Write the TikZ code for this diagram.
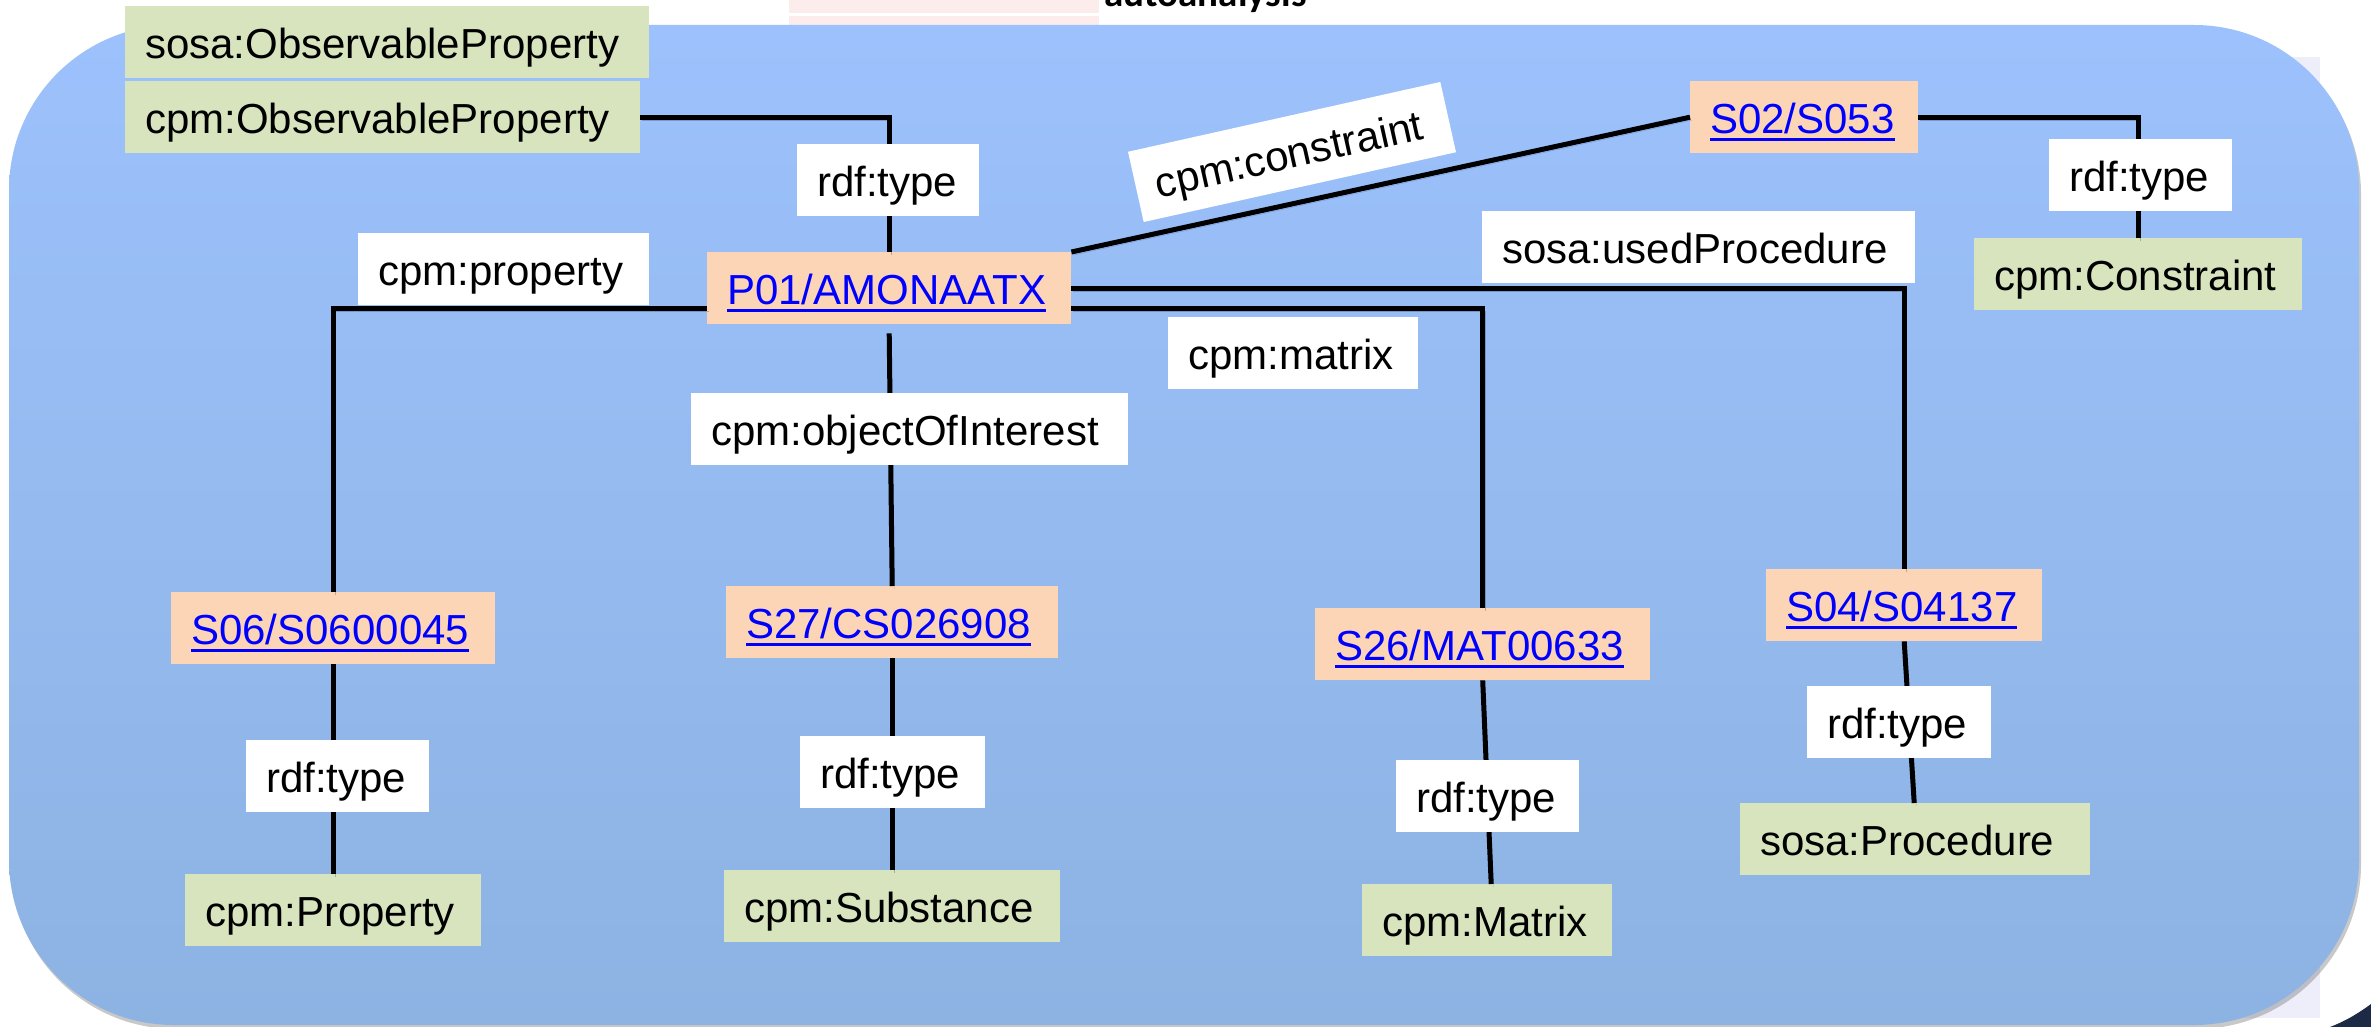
\documentclass[tikz,border=0pt]{standalone}
\usepackage{fontspec}
\setmainfont{Liberation Sans}
\newfontfamily\calfont{Carlito}
\usetikzlibrary{shadows}

\definecolor{panelTop}{RGB}{156,193,252}
\definecolor{panelBot}{RGB}{141,179,227}
\definecolor{panelShade}{RGB}{40,60,110}
\definecolor{classFill}{HTML}{D7E4BD}
\definecolor{resFill}{HTML}{FBD5B5}
\definecolor{linkBlue}{HTML}{0000FF}
\definecolor{pinkRow}{HTML}{FDECEC}
\definecolor{lavender}{HTML}{EEEEFA}
\definecolor{cornerDark}{HTML}{1C2A45}

% underlined hyperlink-style text
\newcommand\lnk[1]{\textcolor{linkBlue}{\setbox0\hbox{#1}\rlap{\rule[-8pt]{\wd0}{3pt}}\box0}}

\tikzset{
  box/.style={rectangle, anchor=north west, inner xsep=20pt, inner ysep=8pt,
    text height=44pt, text depth=12pt, align=left,
    font=\fontsize{42}{50}\selectfont},
  classbox/.style={box, fill=classFill},
  resbox/.style={box, fill=resFill},
  lbl/.style={box, fill=white},
  wire/.style={line width=5pt, black, line join=miter,
    preaction={draw=panelShade, opacity=0.3, transform canvas={xshift=2pt,yshift=-3pt}}},
}

\begin{document}
\begin{tikzpicture}[x=1pt, y=-1pt]
\useasboundingbox (0,0) rectangle (2371,1027);
\fill[white] (0,0) rectangle (2371,1027);

% page fragments behind the panel
\fill[pinkRow] (789,0) rectangle (1099,13);
\fill[pinkRow] (789,16) rectangle (1099,40);
\node[anchor=base west, inner sep=0pt, font=\calfont\bfseries\fontsize{39}{40}\selectfont] (frag) at (1104,7) {autoanalysis};
\fill[lavender] (2200,57) rectangle (2320,1018);
\fill[cornerDark] (2330,1027) .. controls (2348,1020) and (2360,1012) .. (2371,1004) -- (2371,1027) -- cycle;

% rounded panel
\path[drop shadow={shadow xshift=2pt, shadow yshift=-4pt, opacity=0.3, fill=black!70},
  top color=panelTop, bottom color=panelBot, rounded corners=165pt]
  (9,25) rectangle (2359,1025);

% classes
\node[classbox, text width=484pt] (sosaOP) at (125,6) {sosa:ObservableProperty};
\node[classbox, text width=475pt] (cpmOP) at (125,81) {cpm:ObservableProperty};
\node[classbox, text width=288pt] (cons) at (1974,238) {cpm:Constraint};
\node[classbox, text width=256pt] (prop) at (185,874) {cpm:Property};
\node[classbox, text width=296pt] (subst) at (724,870) {cpm:Substance};
\node[classbox, text width=210pt] (matrix) at (1362,884) {cpm:Matrix};
\node[classbox, text width=310pt] (proc) at (1740,803) {sosa:Procedure};

% resources
\node[resbox, text width=324pt] (P01) at (707,252) {\lnk{P01/AMONAATX}};
\node[resbox, text width=188pt] (S02) at (1690,81) {\lnk{S02/S053}};
\node[resbox, text width=284pt] (S06) at (171,592) {\lnk{S06/S0600045}};
\node[resbox, text width=292pt] (S27) at (726,586) {\lnk{S27/CS026908}};
\node[resbox, text width=295pt] (S26) at (1315,608) {\lnk{S26/MAT00633}};
\node[resbox, text width=236pt] (S04) at (1766,569) {\lnk{S04/S04137}};

% connectors
\draw[wire] (cpmOP.east) -| (P01.north);
\draw[wire] ([yshift=-20pt]P01.west) -| (S06.north);
\draw[wire] ([yshift=-9pt]P01.south) -- (S27.north);
\draw[wire] ([yshift=-20pt]P01.east) -| (S26.north);
\draw[wire] (P01.east) -| (S04.north);
\draw[wire] (P01.north east) -- (S02.west);
\draw[wire] (S02.east) -| (cons.north);
\draw[wire] (S06.south) -- (prop.north);
\draw[wire] (S27.south) -- (subst.north);
\draw[wire] (S26.south) -- ([xshift=4pt]matrix.north);
\draw[wire] (S04.south) -- ([xshift=-1pt]proc.north);

% property labels
\node[lbl, text width=142pt] (tOP) at (797,144) {rdf:type};
\node[lbl, text width=251pt] (lProp) at (358,233) {cpm:property};
\node[lbl, anchor=center, rotate=12.6, text width=280pt] (lCons) at (1292,152) {cpm:constraint};
\node[lbl, text width=143pt] (tCons) at (2049,139) {rdf:type};
\node[lbl, text width=393pt] (lProc) at (1482,211) {sosa:usedProcedure};
\node[lbl, text width=210pt] (lMat) at (1168,317) {cpm:matrix};
\node[lbl, text width=397pt] (lOOI) at (691,393) {cpm:objectOfInterest};
\node[lbl, text width=143pt] (tProp) at (246,740) {rdf:type};
\node[lbl, text width=145pt] (tSubst) at (800,736) {rdf:type};
\node[lbl, text width=143pt] (tMat) at (1396,760) {rdf:type};
\node[lbl, text width=144pt] (tProc) at (1807,686) {rdf:type};
\end{tikzpicture}
\end{document}
